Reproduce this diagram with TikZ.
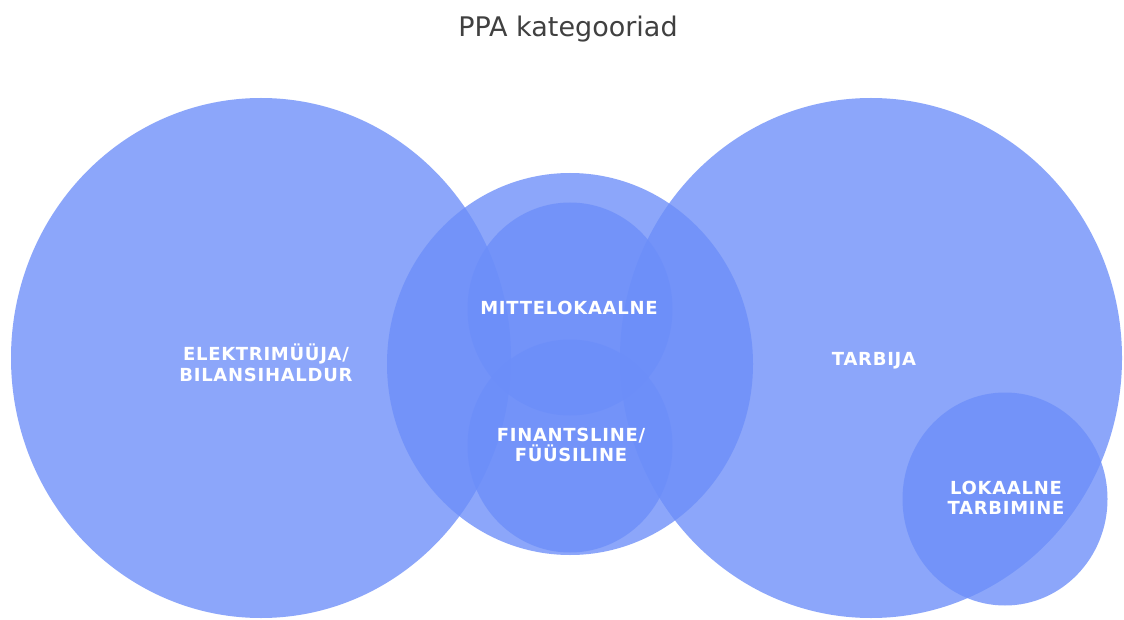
\documentclass[tikz,border=0pt]{standalone}
\usepackage{fontspec}
\setmainfont{DejaVu Sans}
\newfontfamily\lblfont[LetterSpace=4]{DejaVu Sans Bold}
\usetikzlibrary{shapes.geometric}
\definecolor{venn}{RGB}{108,142,249}
\definecolor{titlegray}{RGB}{64,64,64}
\tikzset{
  vset/.style={ellipse, fill=venn, fill opacity=0.78, draw=none, inner sep=0pt},
  vlabel/.style={text=white, align=center, font=\lblfont\fontsize{18}{20.5}\selectfont, inner sep=0pt},
  titletext/.style={text=titlegray, font=\fontsize{27}{32}\selectfont, inner sep=0pt}
}
\begin{document}
\begin{tikzpicture}[x=1pt,y=-1pt]
\fill[white] (0,0) rectangle (1124,620);
\useasboundingbox (0,0) rectangle (1124,620);
\node[titletext] (title) at (568,29) {PPA kategooriad};
% sets
\node[vset, minimum width=500pt, minimum height=520pt] (seller) at (261,358) {};
\node[vset, minimum width=502pt, minimum height=520pt] (consumer) at (871,358) {};
\node[vset, minimum width=366pt, minimum height=382pt] (ppa) at (570,364) {};
\node[vset, minimum width=205pt, minimum height=213pt] (nonlocal) at (570,309) {};
\node[vset, minimum width=205pt, minimum height=213pt] (fin) at (570,446) {};
\node[vset, minimum width=205pt, minimum height=213pt] (local) at (1005,499) {};
% labels
\node[vlabel] (lseller) at (266,363) {ELEKTRIMÜÜJA/\\BILANSIHALDUR};
\node[vlabel] (lnonlocal) at (569,308) {MITTELOKAALNE};
\node[vlabel] (lfin) at (571,445) {FINANTSLINE/\\FÜÜSILINE};
\node[vlabel] (lconsumer) at (874,361) {TARBIJA};
\node[vlabel] (llocal) at (1006,498) {LOKAALNE\\TARBIMINE};
\end{tikzpicture}
\end{document}
